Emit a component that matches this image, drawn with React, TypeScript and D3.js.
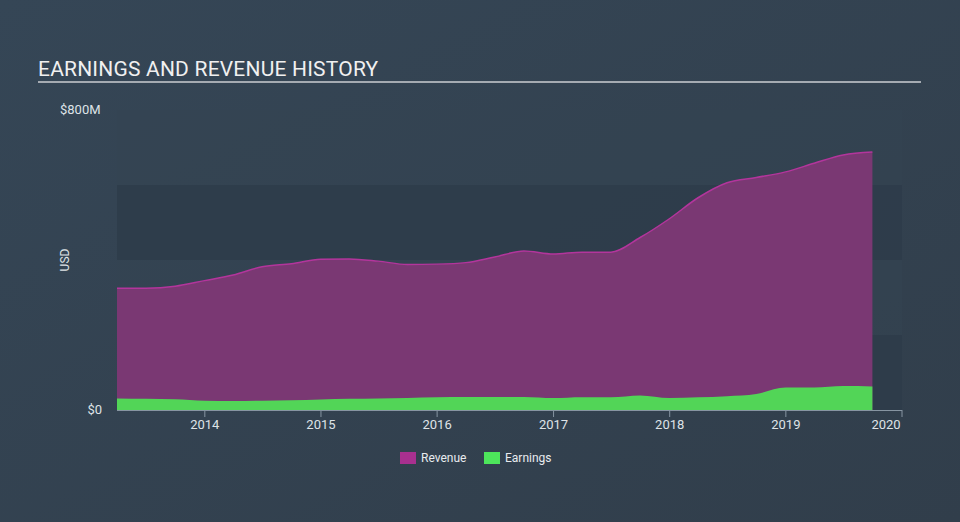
import React from "react";
import * as d3 from "d3";

const dates = [
  "2013-03-31","2013-06-30","2013-09-30","2013-12-31",
  "2014-03-31","2014-06-30","2014-09-30","2014-12-31",
  "2015-03-31","2015-06-30","2015-09-30","2015-12-31",
  "2016-03-31","2016-06-30","2016-09-30","2016-12-31",
  "2017-03-31","2017-06-30","2017-09-30","2017-12-31",
  "2018-03-31","2018-06-30","2018-09-30","2018-12-31",
  "2019-03-31","2019-06-30","2019-09-30",
];
const revenue = [
  325, 325, 330, 345, 360, 382, 390, 402, 403, 397, 388, 389, 393, 408, 424, 416,
  421, 421, 460, 510, 566, 606, 620, 635, 658, 680, 688,
];
const earnings = [
  31, 30, 29, 25, 24, 25, 26, 28, 30, 31, 32, 34, 35, 35, 35, 32,
  34, 34, 39, 32, 34, 37, 43, 60, 60, 64, 63,
];
const yearTicks = [2014, 2015, 2016, 2017, 2018, 2019, 2020];
const yTickValues = [0, 800];
const yTickLabels = ["$0", "$800M"];

const W = 960;
const H = 522;
const X0 = 117;
const X1 = 902;
const Y0 = 410;
const Y1 = 110;

export default function App() {
  const parse = d3.timeParse("%Y-%m-%d");
  const data = dates.map((d, i) => ({ date: parse(d) as Date, rev: revenue[i], earn: earnings[i] }));
  const x = d3
    .scaleTime()
    .domain([parse("2013-03-31") as Date, new Date(2020, 0, 1)])
    .range([X0, X1]);
  const y = d3.scaleLinear().domain([0, 800]).range([Y0, Y1]);

  const revArea = d3
    .area<any>()
    .x((d) => x(d.date))
    .y0(y(0))
    .y1((d) => y(d.rev))
    .curve(d3.curveMonotoneX);
  const revLine = d3
    .line<any>()
    .x((d) => x(d.date))
    .y((d) => y(d.rev))
    .curve(d3.curveMonotoneX);
  const earnArea = d3
    .area<any>()
    .x((d) => x(d.date))
    .y0(y(0))
    .y1((d) => y(d.earn))
    .curve(d3.curveMonotoneX);

  const bands = [0, 200, 400, 600];
  const font = "Roboto, 'Noto Sans', sans-serif";

  return (
    <svg
      width={W}
      height={H}
      style={{ position: "absolute", left: 0, top: 0, display: "block" }}
    >
      <defs>
        <linearGradient id="bg" x1="0" y1="0" x2="1" y2="1">
          <stop offset="0" stopColor="#354656" />
          <stop offset="1" stopColor="#313e4b" />
        </linearGradient>
      </defs>
      <rect x={0} y={0} width={W} height={H} fill="url(#bg)" />
      <text x={38} y={76} fill="#f0f0f0" fontFamily={font} fontSize={21} letterSpacing={0.2}>
        EARNINGS AND REVENUE HISTORY
      </text>
      <line x1={38} x2={921} y1={82} y2={82} stroke="#a5abb2" strokeWidth={2} />

      {bands.map((b, i) => (
        <rect
          key={b}
          x={X0}
          width={X1 - X0}
          y={y(b + 200)}
          height={y(b) - y(b + 200)}
          fill={i % 2 === 0 ? "#2e3c4a" : "#334352"}
          opacity={i % 2 === 0 ? 0.85 : 0.5}
        />
      ))}

      <path d={revArea(data) || ""} fill="#7a3873" />
      <path d={revLine(data) || ""} fill="none" stroke="#b3359c" strokeWidth={1.5} />
      <path d={earnArea(data) || ""} fill="#52d557" />

      <line x1={X0} x2={X1} y1={Y0 + 0.5} y2={Y0 + 0.5} stroke="#8795a2" strokeWidth={1} />
      {yearTicks.map((t) => {
        const xx = x(new Date(t, 0, 1));
        return (
          <g key={t}>
            <line x1={xx} x2={xx} y1={Y0} y2={Y0 + 7} stroke="#8795a2" strokeWidth={1} />
            <text
              x={t === 2020 ? xx - 16 : xx}
              y={Y0 + 19}
              fill="#dfe3e7"
              fontFamily={font}
              fontSize={13}
              textAnchor="middle"
            >
              {t}
            </text>
          </g>
        );
      })}

      {yTickValues.map((v, i) => (
        <text
          key={v}
          x={v === 0 ? 102 : 60}
          y={y(v) + 4}
          fill="#dfe3e7"
          fontFamily={font}
          fontSize={13}
          textAnchor={v === 0 ? "end" : "start"}
        >
          {yTickLabels[i]}
        </text>
      ))}
      <text
        transform="translate(69,260) rotate(-90)"
        fill="#dfe3e7"
        fontFamily={font}
        fontSize={12}
        textAnchor="middle"
      >
        USD
      </text>

      <rect x={400} y={452} width={16} height={12} fill="#a8308f" />
      <text x={421} y={462} fill="#e8ebee" fontFamily={font} fontSize={12}>
        Revenue
      </text>
      <rect x={484} y={452} width={16} height={12} fill="#4de55b" />
      <text x={505} y={462} fill="#e8ebee" fontFamily={font} fontSize={12}>
        Earnings
      </text>
    </svg>
  );
}
